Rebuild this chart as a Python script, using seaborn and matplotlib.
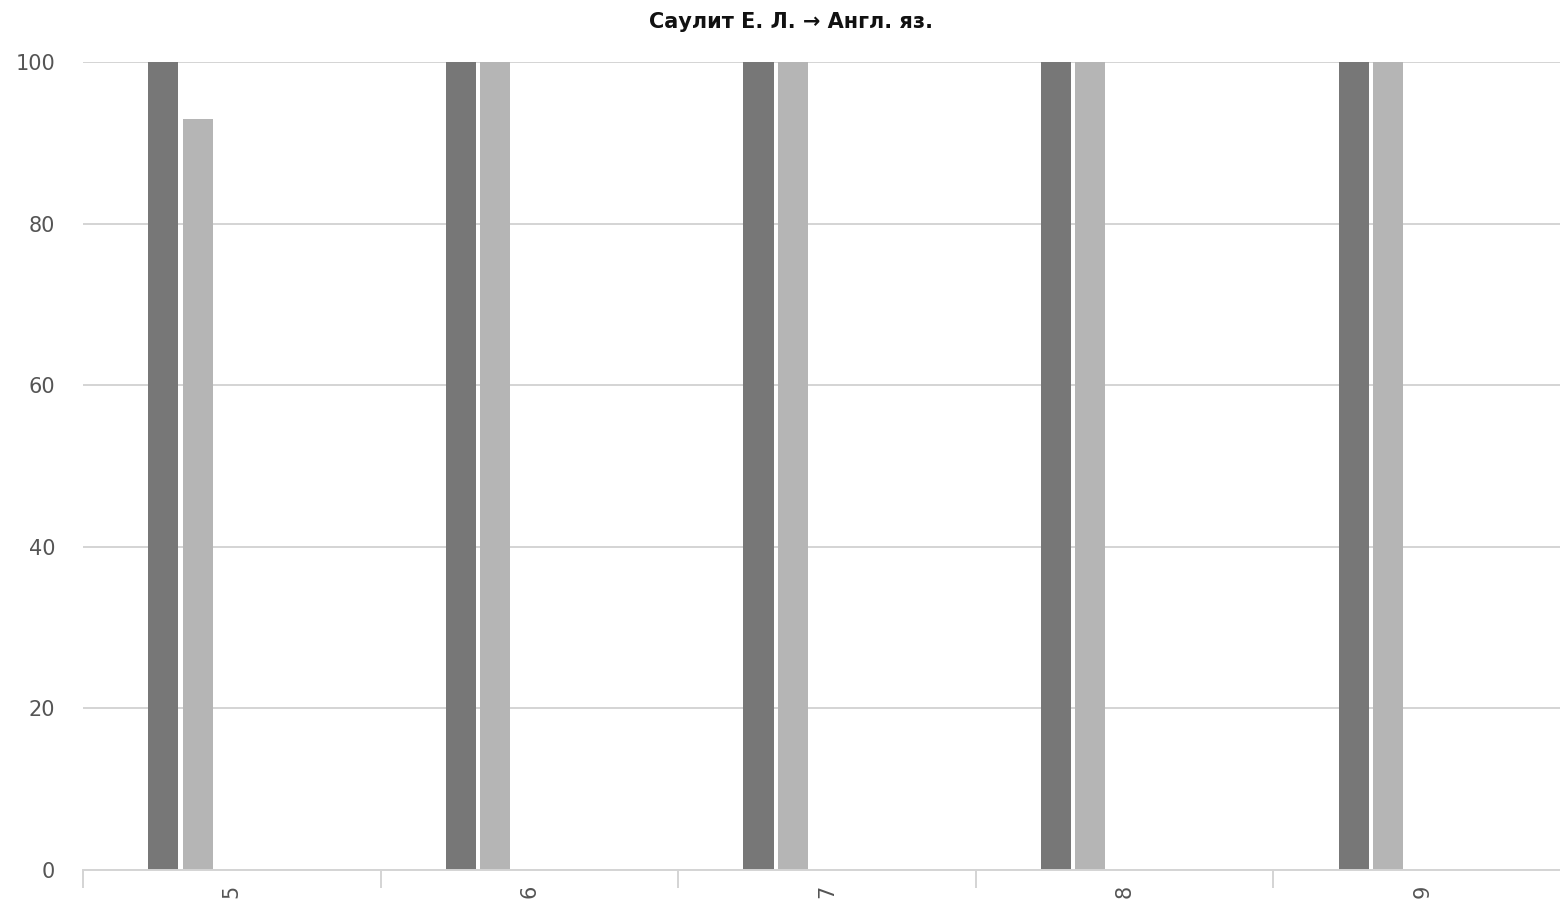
import pandas as pd
import matplotlib.pyplot as plt
import matplotlib.ticker as mticker
import seaborn as sns

# ------------------------- DATA ------------------------- #

title = "Саулит Е. Л. → Англ. яз."
grades = ["5", "6", "7", "8", "9"]
series_names = ["s1", "s2", "s3", "s4", "s5"]
series_1 = [100, 100, 100, 100, 100]
series_2 = [93, 100, 100, 100, 100]
series_3 = [0, 0, 0, 0, 0]
series_4 = [0, 0, 0, 0, 0]
series_5 = [0, 0, 0, 0, 0]
palette = ["#777777", "#b5b5b5", "#d9d9d9", "#999999", "#c8c8c8"]
y_ticks = [0, 20, 40, 60, 80, 100]


def build_frame():
    rows = []
    for name, values in zip(series_names,
                            [series_1, series_2, series_3, series_4, series_5]):
        for grade, v in zip(grades, values):
            rows.append({"grade": grade, "series": name, "value": v})
    return pd.DataFrame(rows)


def main():
    df = build_frame()

    sns.set_style("white")
    plt.rcParams["font.family"] = ["DejaVu Sans"]

    fig = plt.figure(figsize=(15.6, 9), dpi=100)
    ax = fig.add_axes([83 / 1560, 30 / 900, (1571 - 83) / 1560, (870 - 62) / 900])

    sns.barplot(data=df, x="grade", y="value", hue="series", order=grades,
                hue_order=series_names, palette=palette, width=0.575, gap=0.12,
                saturation=1, linewidth=0, legend=False, ax=ax)

    ax.set_xlim(-0.5, len(grades) - 0.5)
    ax.set_ylim(0, 100)
    ax.set_yticks(y_ticks)
    ax.set_xlabel("")
    ax.set_ylabel("")

    # gridlines and spines
    ax.yaxis.grid(True, color="#d4d4d4", linewidth=1.4)
    ax.set_axisbelow(True)
    for side in ["top", "right", "left"]:
        ax.spines[side].set_visible(False)
    ax.spines["bottom"].set_color("#d4d4d4")
    ax.spines["bottom"].set_linewidth(1.4)

    # ticks: labels at centers, separator marks between categories
    ax.tick_params(axis="y", length=0, pad=20, labelsize=15, labelcolor="#555555")
    ax.tick_params(axis="x", which="major", bottom=True, length=0, pad=10.5,
                   labelsize=15, labelcolor="#555555", labelrotation=90)
    ax.xaxis.set_minor_locator(mticker.FixedLocator(
        [i - 0.5 for i in range(len(grades) + 1)]))
    ax.tick_params(axis="x", which="minor", bottom=True, length=13, width=1.4,
                   color="#d4d4d4", direction="out")

    fig.text(791 / 1560, 1 - 22 / 900, title, ha="center", va="center",
             fontsize=15, fontweight="bold", color="#111111")

    fig.savefig("out.png", dpi=100)


if __name__ == "__main__":
    main()
